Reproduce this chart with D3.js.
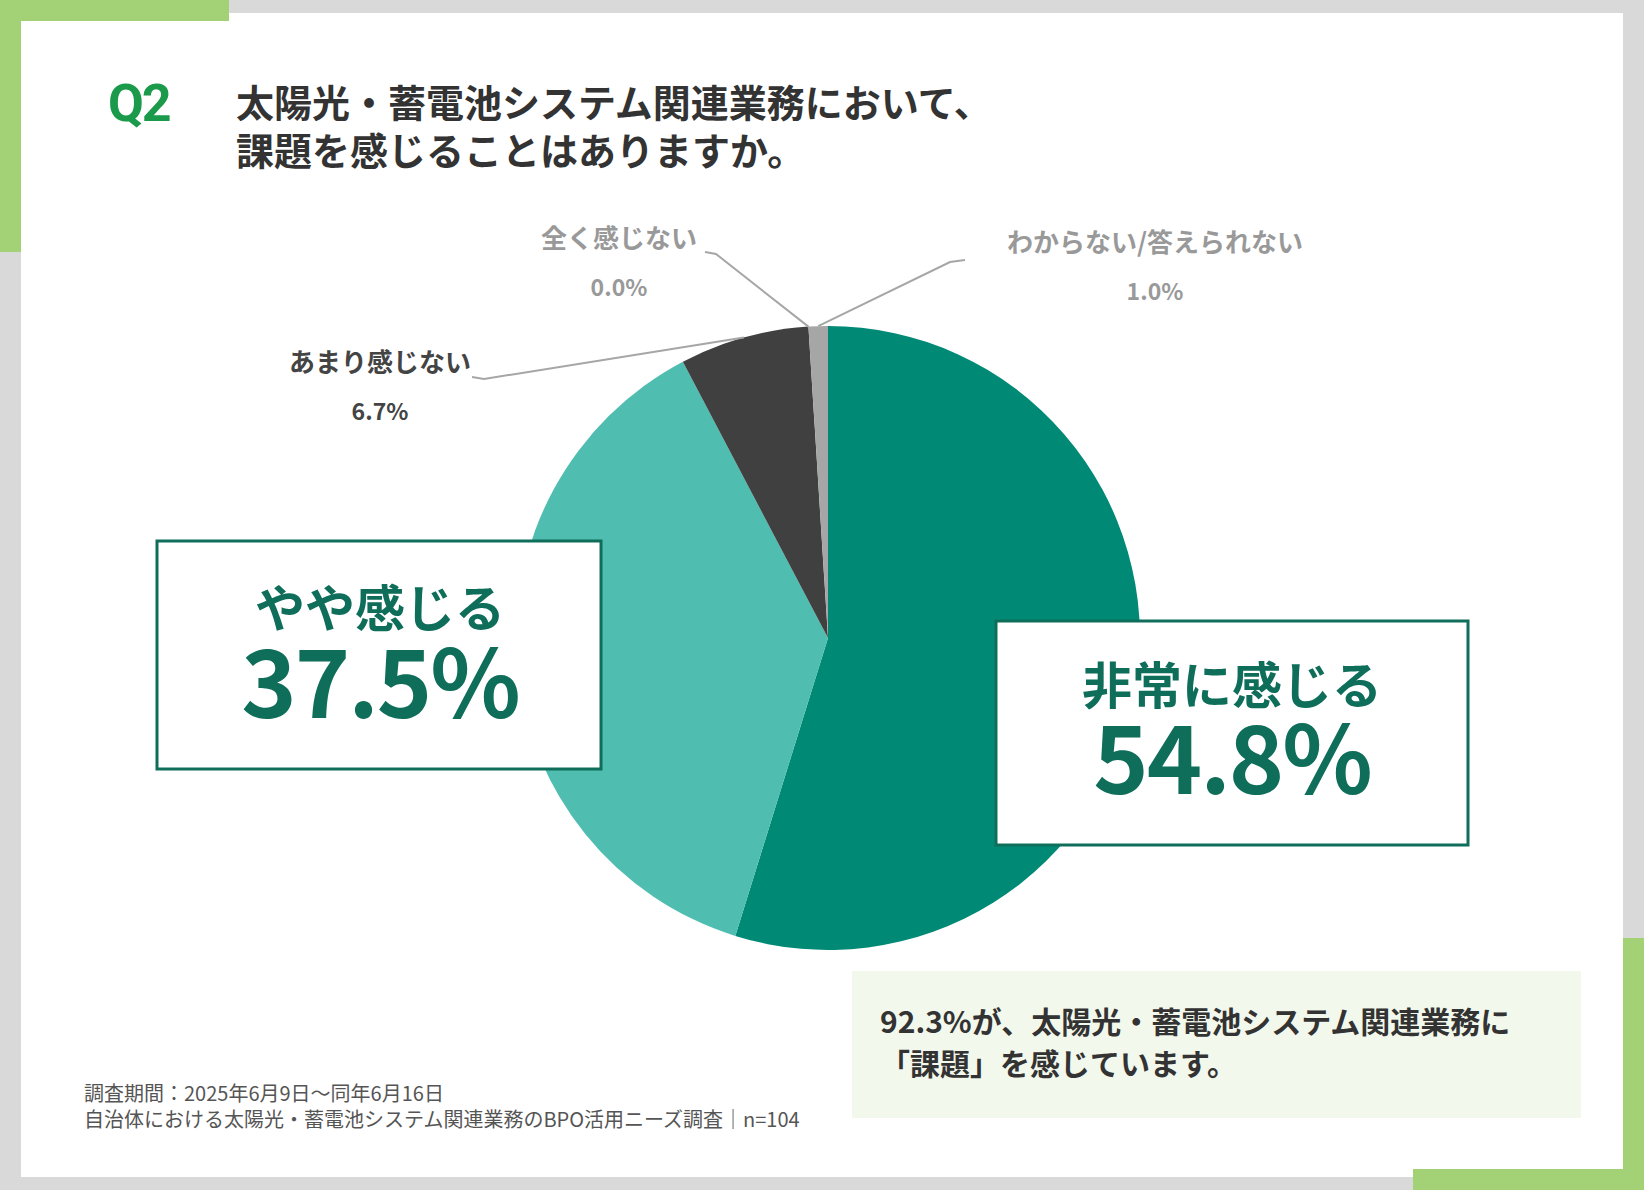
<!DOCTYPE html>
<html><head><meta charset="utf-8">
<script src="https://cdn.jsdelivr.net/npm/d3@7"></script>
<style>body{margin:0;background:#fff}svg{display:block;font-family:"Noto Sans CJK JP","Noto Sans",sans-serif}</style>
</head><body><svg width="1644" height="1190"></svg>
<script>
const categories = ["非常に感じる", "やや感じる", "あまり感じない", "全く感じない", "わからない/答えられない"];
const values = [54.8, 37.5, 6.7, 0.0, 1.0];
const colors = ["#008a76", "#4fbdaf", "#404040", "#8c8c8c", "#a6a6a6"];
const question = ["太陽光・蓄電池システム関連業務において、", "課題を感じることはありますか。"];
const note = ["92.3%が、太陽光・蓄電池システム関連業務に", "「課題」を感じています。"];
const footer = ["調査期間：2025年6月9日～同年6月16日", "自治体における太陽光・蓄電池システム関連業務のBPO活用ニーズ調査｜n=104"];

const svg = d3.select("svg");
const W = 1644, H = 1190, green = "#a3d176", dark = "#0e6e5a";

// frame
svg.append("rect").attr("width", W).attr("height", H).attr("fill", "#d9d9d9");
svg.append("rect").attr("x", 21).attr("y", 13).attr("width", W - 42).attr("height", H - 26).attr("fill", "#fff");
svg.append("rect").attr("x", 0).attr("y", 0).attr("width", 229).attr("height", 21).attr("fill", green);
svg.append("rect").attr("x", 0).attr("y", 0).attr("width", 21).attr("height", 252).attr("fill", green);
svg.append("rect").attr("x", 1413).attr("y", 1169).attr("width", 231).attr("height", 21).attr("fill", green);
svg.append("rect").attr("x", 1623).attr("y", 938).attr("width", 21).attr("height", 252).attr("fill", green);

// title
svg.append("text").attr("x", 108).attr("y", 121).attr("font-size", 52).attr("font-weight", 700)
  .attr("fill", "#1a9a4a").attr("font-family", "Roboto,sans-serif").attr("letter-spacing", -2).text("Q2");
svg.selectAll(".q").data(question).join("text").attr("x", 236).attr("y", (d, i) => 117 + i * 48)
  .attr("font-size", 38).attr("font-weight", 700).attr("fill", "#333").text(d => d);

// pie
const cx = 828, cy = 638, r = 312;
const pie = d3.pie().sort(null).value(d => d);
const arc = d3.arc().innerRadius(0).outerRadius(r);
const g = svg.append("g").attr("transform", `translate(${cx},${cy})`);
g.selectAll("path").data(pie(values)).join("path").attr("d", arc).attr("fill", (d, i) => colors[i]);

// small labels with leader lines
const small = [
  {i: 2, tx: 380, ty: 372, pts: [[472, 377], [484, 379]], col: "#444"},
  {i: 3, tx: 619, ty: 248, pts: [[705, 252], [716, 254]], col: "#999"},
  {i: 4, tx: 1155, ty: 252, pts: [[965, 260], [950, 262]], col: "#999"}
];
const arcs = pie(values);
small.forEach(s => {
  const a = arcs[s.i];
  const mid = (a.startAngle + a.endAngle) / 2;
  const p = [cx + Math.sin(mid) * r, cy - Math.cos(mid) * r];
  svg.append("path").attr("d", d3.line()([...s.pts, p])).attr("fill", "none").attr("stroke", "#a6a6a6").attr("stroke-width", 2);
  svg.append("text").attr("x", s.tx).attr("y", s.ty).attr("text-anchor", "middle").attr("font-size", 26)
    .attr("font-weight", 700).attr("fill", s.col).text(categories[s.i]);
  svg.append("text").attr("x", s.tx).attr("y", s.ty + 48).attr("text-anchor", "middle").attr("font-size", 23)
    .attr("font-weight", 700).attr("fill", s.col).text(values[s.i].toFixed(1) + "%");
});

// big callout boxes
const boxes = [
  {i: 1, x: 157, y: 541, w: 444, h: 228, cx: 380, b1: 627, b2: 718},
  {i: 0, x: 996, y: 621, w: 472, h: 224, cx: 1232, b1: 704, b2: 794}
];
boxes.forEach(b => {
  svg.append("rect").attr("x", b.x).attr("y", b.y).attr("width", b.w).attr("height", b.h)
    .attr("fill", "#fff").attr("stroke", dark).attr("stroke-width", 3);
  svg.append("text").attr("x", b.cx).attr("y", b.b1).attr("text-anchor", "middle").attr("font-size", 50)
    .attr("font-weight", 700).attr("fill", dark).text(categories[b.i]);
  svg.append("text").attr("x", b.cx).attr("y", b.b2).attr("text-anchor", "middle").attr("font-size", 94)
    .attr("font-weight", 700).attr("fill", dark).attr("letter-spacing", -2).text(values[b.i].toFixed(1) + "%");
});

// note
svg.append("rect").attr("x", 852).attr("y", 971).attr("width", 729).attr("height", 147).attr("fill", "#f3f8ec");
svg.selectAll(".n").data(note).join("text").attr("x", 880).attr("y", (d, i) => 1033 + i * 42)
  .attr("font-size", 30).attr("font-weight", 700).attr("fill", "#333").text(d => d);

// footer
svg.selectAll(".f").data(footer).join("text").attr("x", 84).attr("y", (d, i) => 1101 + i * 26)
  .attr("font-size", 20).attr("fill", "#555").text(d => d);
</script></body></html>
